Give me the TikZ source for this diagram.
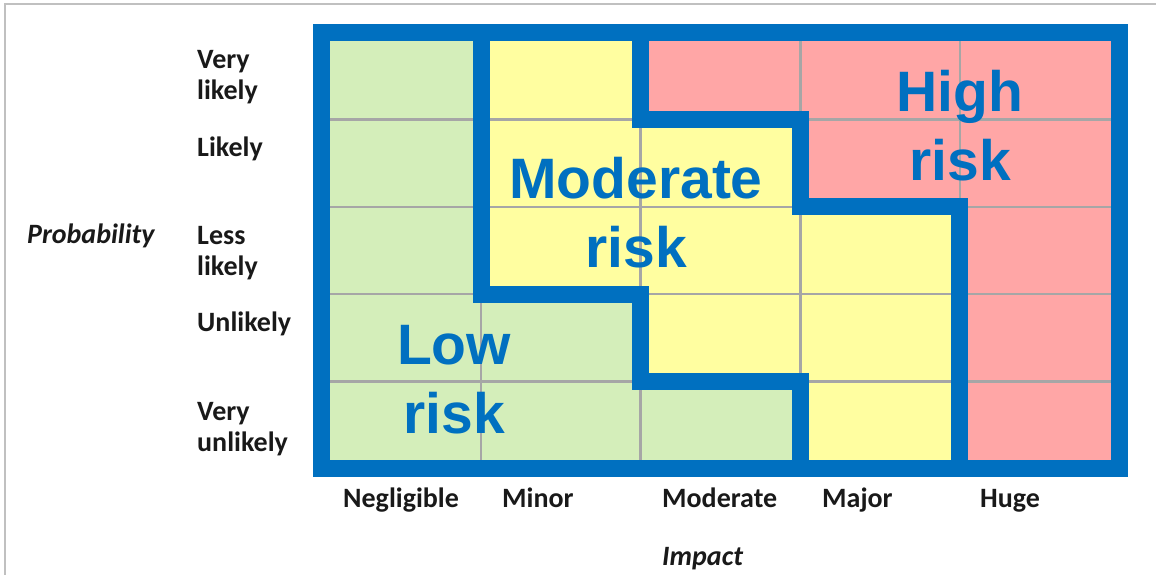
\documentclass[tikz,border=0pt]{standalone}
\usepackage{fontspec}
\usepackage{tikz}
\newfontfamily\riskfont{Liberation Sans}
\newfontfamily\axisfont{Carlito}
\definecolor{lowgreen}{RGB}{212,238,186}
\definecolor{modyellow}{RGB}{255,254,160}
\definecolor{highred}{RGB}{255,166,166}
\definecolor{riskblue}{RGB}{0,112,192}
\definecolor{framegray}{RGB}{192,192,192}
\definecolor{labelblack}{RGB}{25,25,25}

\begin{document}
\begin{tikzpicture}[x=1pt, y=-1pt,
		axislabel/.style={anchor=base west, inner sep=0pt, align=left, text=labelblack, font=\axisfont\bfseries\fontsize{28}{31}\selectfont},
		axistitle/.style={axislabel, font=\axisfont\bfseries\itshape\fontsize{28}{31}\selectfont},
		risklabel/.style={anchor=base, inner sep=0pt, align=center, text=riskblue, font=\riskfont\bfseries\fontsize{57}{69}\selectfont},
		riskline/.style={draw=riskblue, line width=17pt},
		cellline/.style={draw=black!35, line width=2.5pt}]
	\useasboundingbox (0,0) rectangle (1156,575);
	\draw[framegray, line width=2pt] (5,575) -- (5,4) -- (1156,4); % bordo

	\begin{scope}[shift={(321.5,32.5)}, x=159.6pt, y=-87.2pt]
		\fill[lowgreen] (0,0) rectangle (5,5);
		\fill[modyellow] (1,0) -- (1,3) -- (2,3) -- (2,4) -- (3,4) -- (3,5) -- (5,5) -- (5,0) -- cycle;
		\fill[highred] (2,0) -- (2,1) -- (3,1) -- (3,2) -- (4,2) -- (4,5) -- (5,5) -- (5,0) -- cycle;
		\foreach \k in {1,...,4} {
			\draw[cellline] (\k,0) -- (\k,5);
			\draw[cellline] (0,\k) -- (5,\k);
		}
		\draw[riskline] (0,0) rectangle (5,5); % cornice
		\draw[riskline] (1,0) -- (1,3) -- (2,3) -- (2,4) -- (3,4) -- (3,5); % low / moderate
		\draw[riskline] (2,0) -- (2,1) -- (3,1) -- (3,2) -- (4,2) -- (4,5); % moderate / high
	\end{scope}

	\node[risklabel] (low) at (454,433) {Low\\risk};
	\node[risklabel] (moderate) at (636,267) {Moderate\\risk};
	\node[risklabel] (high) at (960,180) {High\\risk};

	\node[axislabel] (verylikely) at (197,100) {Very\\likely};
	\node[axislabel] (likely) at (197,157) {Likely};
	\node[axislabel] (lesslikely) at (197,275) {Less\\likely};
	\node[axislabel] (unlikely) at (197,331) {Unlikely};
	\node[axislabel] (veryunlikely) at (197,451) {Very\\unlikely};
	\node[axistitle] (probability) at (27,243) {Probability};

	\node[axislabel] (negligible) at (343,507) {Negligible};
	\node[axislabel] (minor) at (502,507) {Minor};
	\node[axislabel] (moderateimpact) at (662,507) {Moderate};
	\node[axislabel] (major) at (822,507) {Major};
	\node[axislabel] (huge) at (980,507) {Huge};
	\node[axistitle] (impact) at (662,565) {Impact};
\end{tikzpicture}
\end{document}
